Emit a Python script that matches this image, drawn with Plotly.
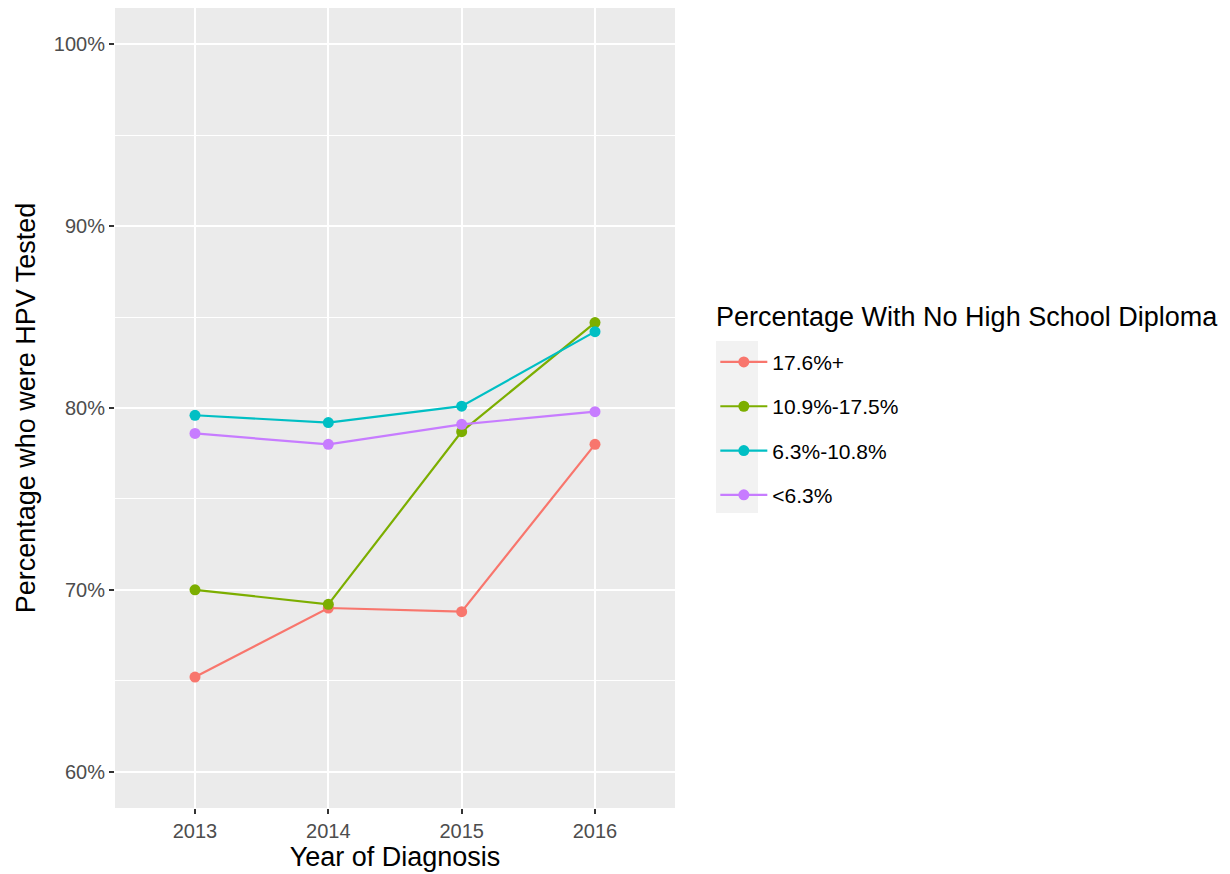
import plotly.graph_objects as go

years = [2013, 2014, 2015, 2016]
groups = ["17.6%+", "10.9%-17.5%", "6.3%-10.8%", "<6.3%"]
colors = ["#F8766D", "#7CAE00", "#00BFC4", "#C77CFF"]
pct_176_plus = [65.2, 69.0, 68.8, 78.0]
pct_109_175 = [70.0, 69.2, 78.7, 84.7]
pct_63_108 = [79.6, 79.2, 80.1, 84.2]
pct_lt_63 = [78.6, 78.0, 79.1, 79.8]
series = [pct_176_plus, pct_109_175, pct_63_108, pct_lt_63]
y_ticks = [60, 70, 80, 90, 100]
y_labels = ["60%", "70%", "80%", "90%", "100%"]
legend_title = "Percentage With No High School Diploma"

fig = go.Figure()
for name, col, vals in zip(groups, colors, series):
    fig.add_trace(go.Scatter(
        x=years, y=vals, name=name, mode="lines+markers",
        line=dict(color=col, width=2.2),
        marker=dict(color=col, size=11),
        legendgroup=name,
    ))

font_family = "Liberation Sans, Arial, sans-serif"
fig.update_layout(
    width=1222, height=866,
    paper_bgcolor="white", plot_bgcolor="#EBEBEB",
    margin=dict(l=107, r=555, t=0, b=66),
    font=dict(family=font_family, color="black"),
    xaxis=dict(
        range=[2012.4, 2016.6], tickvals=years, ticktext=[str(y) for y in years],
        showgrid=True, gridcolor="white", gridwidth=1.6, zeroline=False,
        ticks="outside", ticklen=5, tickcolor="#333333", tickwidth=1.5,
        tickfont=dict(size=20, color="#4D4D4D"),
        title=dict(text="Year of Diagnosis", font=dict(size=27, color="black"), standoff=4),
    ),
    yaxis=dict(
        range=[58.0, 102.0], tickvals=y_ticks, ticktext=y_labels,
        showgrid=True, gridcolor="white", gridwidth=1.6, zeroline=False,
        ticks="outside", ticklen=5, tickcolor="#333333", tickwidth=1.5,
        tickfont=dict(size=20, color="#4D4D4D"),
        minor=dict(dtick=5, tick0=0, showgrid=True, gridcolor="white", gridwidth=0.8),
        title=dict(text="Percentage who were HPV Tested", font=dict(size=27, color="black"), standoff=10),
    ),
    legend=dict(
        x=1.072, y=0.474, xanchor="left", yanchor="middle",
        font=dict(size=21, color="black"),
        tracegroupgap=14, itemwidth=47, bgcolor="rgba(0,0,0,0)",
    ),
    annotations=[dict(text=legend_title, xref="paper", yref="paper",
                      x=(714 - 115) / 560, y=(808 - 317) / 800,
                      xanchor="left", yanchor="middle", showarrow=False,
                      font=dict(size=27, color="black"))],
    shapes=[dict(type="rect", xref="paper", yref="paper",
                 x0=(716 - 115) / 560, x1=(758 - 115) / 560,
                 y0=(808 - 513) / 800, y1=(808 - 341) / 800,
                 fillcolor="#F2F2F2", line=dict(width=0), layer="below")],
)
fig.write_html("out.html")
